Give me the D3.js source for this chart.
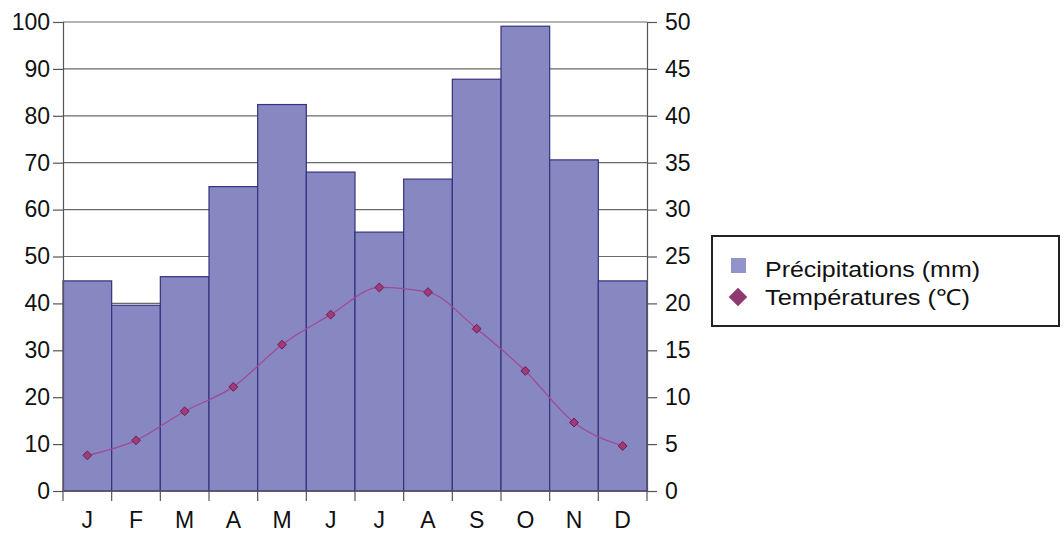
<html>
<script src='https://d3js.org/d3.v7.min.js'></script>
<body style="margin:0;background:#fff">
<div id='vis'></div>
<script>
// data
const months = ['J', 'F', 'M', 'A', 'M', 'J', 'J', 'A', 'S', 'O', 'N', 'D'];
const precipitation = [44.8, 39.6, 45.7, 64.9, 82.4, 68.0, 55.2, 66.5, 87.8, 99.1, 70.6, 44.8];
const temperature = [3.8, 5.4, 8.5, 11.1, 15.6, 18.8, 21.7, 21.2, 17.3, 12.8, 7.3, 4.8];
const leftTicks = [0, 10, 20, 30, 40, 50, 60, 70, 80, 90, 100];
const rightTicks = [0, 5, 10, 15, 20, 25, 30, 35, 40, 45, 50];
const legendLabels = ['Précipitations (mm)', 'Températures (℃)'];

const width = 1064, height = 534;
const m = {left: 63, right: 417, top: 22, bottom: 43};
const font = 'Liberation Sans, Arial, sans-serif';

const svg = d3.select('#vis').append('svg').attr('width', width).attr('height', height);

const x = d3.scaleBand().domain(d3.range(12)).range([m.left, width - m.right]).padding(0);
const yL = d3.scaleLinear().domain([0, 100]).range([height - m.bottom, m.top]);
const yR = d3.scaleLinear().domain([0, 50]).range([height - m.bottom, m.top]);

// gridlines
svg.append('g').selectAll('line').data(leftTicks).join('line')
    .attr('x1', m.left).attr('x2', width - m.right)
    .attr('y1', d => yL(d)).attr('y2', d => yL(d))
    .attr('stroke', '#6a6a6a').attr('stroke-width', 1.2);

// bars
svg.append('g').selectAll('rect').data(precipitation).join('rect')
    .attr('x', (d, i) => x(i)).attr('width', x.bandwidth())
    .attr('y', d => yL(d)).attr('height', d => yL(0) - yL(d))
    .attr('fill', '#8787c2').attr('stroke', '#33337f').attr('stroke-width', 1.2);

// axes
const axL = svg.append('g').attr('transform', `translate(${m.left},0)`)
    .call(d3.axisLeft(yL).tickValues(leftTicks).tickSize(10).tickPadding(3));
const axR = svg.append('g').attr('transform', `translate(${width - m.right},0)`)
    .call(d3.axisRight(yR).tickValues(rightTicks).tickSize(10).tickPadding(8));
const axB = svg.append('g').attr('transform', `translate(0,${yL(0)})`)
    .call(d3.axisBottom(x).tickFormat(i => months[i]).tickSize(0).tickPadding(21));
// bottom tick marks at band boundaries
svg.append('g').selectAll('line').data(d3.range(13)).join('line')
    .attr('x1', i => m.left + i * x.step()).attr('x2', i => m.left + i * x.step())
    .attr('y1', yL(0)).attr('y2', yL(0) + 10)
    .attr('stroke', '#555').attr('stroke-width', 1.2);

[axL, axR, axB].forEach(a => {
    a.select('.domain').attr('stroke', '#555').attr('stroke-width', 1.2);
    a.selectAll('.tick line').attr('stroke', '#555').attr('stroke-width', 1.2);
    a.selectAll('text').attr('font-family', font).attr('font-size', 23).attr('fill', '#111');
});
axB.select('.domain').attr('d', `M${m.left},0H${width - m.right}`);

// temperature line
const line = d3.line()
    .x((d, i) => x(i) + x.bandwidth() / 2)
    .y(d => yR(d))
    .curve(d3.curveMonotoneX);
svg.append('path').datum(temperature).attr('d', line)
    .attr('fill', 'none').attr('stroke', '#a04a93').attr('stroke-width', 1.3);
const diamond = d3.symbol().type(d3.symbolDiamond2).size(50);
svg.append('g').selectAll('path').data(temperature).join('path')
    .attr('transform', (d, i) => `translate(${x(i) + x.bandwidth() / 2},${yR(d)})`)
    .attr('d', diamond)
    .attr('fill', '#a03a78').attr('stroke', '#6a1f55').attr('stroke-width', 1);

// legend
const lg = svg.append('g');
lg.append('rect').attr('x', 712).attr('y', 236).attr('width', 347).attr('height', 90)
    .attr('fill', '#fff').attr('stroke', '#222').attr('stroke-width', 2);
lg.append('rect').attr('x', 731).attr('y', 258).attr('width', 15).attr('height', 15)
    .attr('fill', '#9393cc');
lg.append('path').attr('transform', 'translate(738,297)')
    .attr('d', d3.symbol().type(d3.symbolDiamond2).size(220)).attr('fill', '#8e3a70');
lg.selectAll('text').data(legendLabels).join('text')
    .attr('x', 765).attr('y', (d, i) => 277 + i * 28)
    .attr('font-family', font).attr('font-size', 22).attr('fill', '#111')
    .attr('textLength', (d, i) => i === 0 ? 215 : 205).attr('lengthAdjust', 'spacingAndGlyphs')
    .text(d => d);
</script>
</body>
</html>
